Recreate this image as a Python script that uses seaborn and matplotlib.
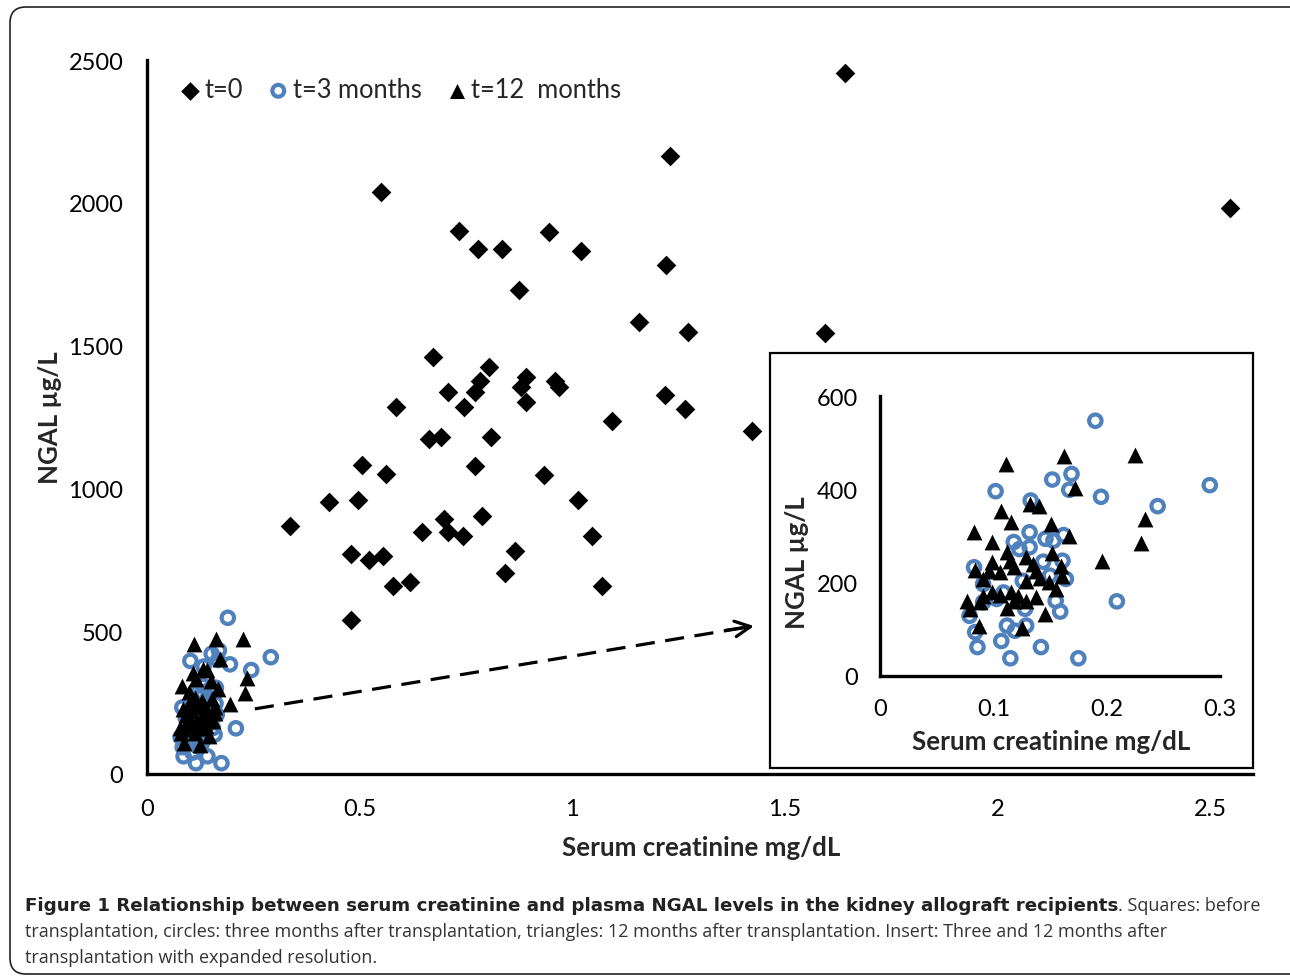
import numpy as np
import pandas as pd
import matplotlib
matplotlib.use("Agg")
import matplotlib.pyplot as plt
import seaborn as sns
from matplotlib.patches import Rectangle, FancyBboxPatch
from matplotlib.transforms import IdentityTransform

# t=0 (before transplantation), serum creatinine mg/dL and NGAL ug/L
t0_creat = [1.641, 2.547, 0.549, 1.230, 0.733, 0.778, 0.835, 0.946, 1.020, 1.221,
            0.874, 1.157, 1.271, 1.594, 0.672, 0.803, 0.782, 0.770, 0.707, 0.746,
            0.891, 0.879, 0.891, 0.958, 0.969, 0.585, 1.092, 0.664, 0.690, 0.808,
            0.505, 0.561, 0.771, 0.933, 0.428, 0.497, 1.014, 0.336, 0.698, 0.788,
            0.647, 0.707, 0.743, 1.046, 0.480, 0.522, 0.555, 0.866, 0.578, 0.619,
            0.842, 1.070, 0.479, 1.218, 1.265, 1.423]
t0_ngal = [2455, 1982, 2039, 2163, 1902, 1838, 1838, 1897, 1832, 1782,
           1696, 1584, 1549, 1544, 1459, 1424, 1377, 1336, 1336, 1284,
           1389, 1354, 1301, 1377, 1354, 1286, 1237, 1173, 1181, 1179,
           1083, 1050, 1080, 1047, 953, 960, 960, 867, 893, 904,
           846, 846, 834, 834, 770, 750, 764, 782, 659, 673,
           703, 659, 539, 1327, 1278, 1201]

# t=3 months
t3_creat = [0.190, 0.291, 0.245, 0.195, 0.209, 0.175, 0.142, 0.115, 0.107, 0.086,
            0.102, 0.152, 0.169, 0.167, 0.133, 0.132, 0.118, 0.123, 0.132, 0.146,
            0.153, 0.162, 0.161, 0.144, 0.083, 0.164, 0.150, 0.126, 0.091, 0.109,
            0.155, 0.159, 0.079, 0.084, 0.112, 0.129, 0.119, 0.128, 0.091, 0.103]
t3_ngal = [547, 409, 364, 384, 160, 38, 62, 38, 75, 62,
           396, 421, 433, 399, 376, 308, 287, 272, 276, 294,
           290, 302, 247, 245, 233, 208, 215, 204, 197, 179,
           161, 138, 129, 94, 108, 108, 97, 144, 158, 165]

# t=12 months
t12_creat = [0.111, 0.162, 0.225, 0.172, 0.234, 0.230, 0.196, 0.132, 0.140, 0.107,
             0.116, 0.151, 0.083, 0.167, 0.099, 0.112, 0.152, 0.129, 0.099, 0.115,
             0.084, 0.135, 0.160, 0.096, 0.106, 0.118, 0.138, 0.091, 0.129, 0.141,
             0.161, 0.149, 0.155, 0.077, 0.079, 0.091, 0.099, 0.106, 0.116, 0.122,
             0.129, 0.138, 0.112, 0.146, 0.087, 0.125, 0.088, 0.118]
t12_ngal = [454, 472, 474, 403, 336, 285, 246, 369, 365, 354,
            331, 326, 308, 299, 287, 265, 264, 254, 244, 247,
            228, 240, 235, 226, 222, 233, 224, 208, 204, 211,
            214, 201, 186, 161, 144, 172, 179, 174, 179, 172,
            161, 169, 145, 133, 108, 102, 158, 161]

x_ticks = [0, 0.5, 1, 1.5, 2, 2.5]
x_tick_labels = ["0", "0.5", "1", "1.5", "2", "2.5"]
y_ticks = [0, 500, 1000, 1500, 2000, 2500]
inset_x_ticks = [0, 0.1, 0.2, 0.3]
inset_x_tick_labels = ["0", "0.1", "0.2", "0.3"]
inset_y_ticks = [0, 200, 400, 600]

df0 = pd.DataFrame({"creat": t0_creat, "ngal": t0_ngal})
df3 = pd.DataFrame({"creat": t3_creat, "ngal": t3_ngal})
df12 = pd.DataFrame({"creat": t12_creat, "ngal": t12_ngal})

sns.set_style("white")
plt.rcParams["font.family"] = ["Lato", "DejaVu Sans"]

BLUE = "#4f81bd"
W, H = 1290, 979
fig = plt.figure(figsize=(W / 100, H / 100), dpi=100)


def fx(px):
    return px / W


def fy(py):
    return 1 - py / H


def style_axes(ax, fs):
    for s in ["top", "right"]:
        ax.spines[s].set_visible(False)
    for s in ["left", "bottom"]:
        ax.spines[s].set_color("black")
        ax.spines[s].set_linewidth(2.4)
    ax.tick_params(length=0, labelsize=fs, colors="black")


D_KW = dict(marker="D", s=100, color="black", edgecolor="black", linewidth=0)
O_KW = dict(marker="o", s=80, facecolor="none", edgecolor=BLUE, linewidth=3)
T_KW = dict(marker="^", s=130, color="black", edgecolor="black", linewidth=0)

# main axes
ax = fig.add_axes([fx(147), fy(775), fx(1253) - fx(147), fy(61) - fy(775)])
sns.scatterplot(data=df0, x="creat", y="ngal", ax=ax, label="t=0", **D_KW)
sns.scatterplot(data=df3, x="creat", y="ngal", ax=ax, label="t=3 months", **O_KW)
sns.scatterplot(data=df12, x="creat", y="ngal", ax=ax, label="t=12  months", **T_KW)
ax.set_xlim(0, 2.6)
ax.set_ylim(0, 2500)
ax.set_xticks(x_ticks)
ax.set_xticklabels(x_tick_labels)
ax.set_yticks(y_ticks)
style_axes(ax, 17)
ax.tick_params(axis="y", pad=17)
ax.tick_params(axis="x", pad=17)
ax.set_xlabel("Serum creatinine mg/dL", fontsize=18.6, fontweight="bold", va="center")
ax.set_ylabel("NGAL µg/L", fontsize=18.6, fontweight="bold", va="center")
ax.xaxis.set_label_coords(0.501, -0.102)
ax.yaxis.set_label_coords(-0.0877, 0.5)

leg = ax.legend(loc="center left", bbox_to_anchor=(0.0298, 0.958), ncol=3,
                frameon=False, fontsize=18.4, markerscale=0.95, handlelength=0.8,
                handletextpad=0.16, columnspacing=0.98, borderpad=0,
                borderaxespad=0)

# dashed pointer from the low cluster to the insert
ax.plot([0.2535, 1.41], [228, 514], ls=(0, (6, 3.3)), color="black", lw=2.3)
ax.annotate("", xy=(1.427, 518), xytext=(1.36, 503),
            arrowprops=dict(arrowstyle="->", color="black", lw=2.3,
                            mutation_scale=28, shrinkA=0, shrinkB=0))

# insert box
box = Rectangle((fx(770), fy(769)), fx(1253) - fx(770), fy(354) - fy(769),
                transform=fig.transFigure, facecolor="white", edgecolor="black",
                linewidth=1.6, zorder=1)
fig.add_artist(box)

iax = fig.add_axes([fx(880), fy(677), fx(1220) - fx(880), fy(397) - fy(677)])
iax.set_zorder(2)
iax.patch.set_alpha(0)
sns.scatterplot(data=df3, x="creat", y="ngal", ax=iax, **O_KW)
sns.scatterplot(data=df12, x="creat", y="ngal", ax=iax, **T_KW)
iax.set_xlim(0, 0.3)
iax.set_ylim(0, 600)
iax.set_xticks(inset_x_ticks)
iax.set_xticklabels(inset_x_tick_labels)
iax.set_yticks(inset_y_ticks)
style_axes(iax, 17)
iax.tick_params(axis="y", pad=16)
iax.tick_params(axis="x", pad=16)
iax.set_xlabel("Serum creatinine mg/dL", fontsize=18.6, fontweight="bold", va="center")
iax.set_ylabel("NGAL µg/L", fontsize=18.6, fontweight="bold", va="center")
iax.xaxis.set_label_coords(0.503, -0.232)
iax.yaxis.set_label_coords(-0.244, 0.407)

# outer frame, in pixels
frame = FancyBboxPatch((10, 4), 1300, 967,
                       boxstyle="round,pad=0,rounding_size=16",
                       transform=IdentityTransform(), facecolor="none",
                       edgecolor="#222222", linewidth=1.2, zorder=0)
fig.add_artist(frame)

# caption
cap_font = ["Open Sans", "DejaVu Sans"]
cap_size = 12.95
bold_part = ("Figure 1 Relationship between serum creatinine and plasma NGAL "
             "levels in the kidney allograft recipients")
t1 = fig.text(fx(25), fy(906), bold_part, fontsize=13.15, fontweight="bold",
              family=["DejaVu Sans"], va="center", ha="left", color="#222222")
fig.canvas.draw()
bb = t1.get_window_extent(renderer=fig.canvas.get_renderer())
fig.text(bb.x1 / W, fy(906), ". Squares: before", fontsize=cap_size,
         family=cap_font, va="center", ha="left", color="#333333")
fig.text(fx(25), fy(932),
         "transplantation, circles: three months after transplantation, "
         "triangles: 12 months after transplantation. Insert: Three and 12 "
         "months after", fontsize=cap_size, family=cap_font, va="center",
         ha="left", color="#333333")
fig.text(fx(25), fy(958), "transplantation with expanded resolution.",
         fontsize=cap_size, family=cap_font, va="center", ha="left",
         color="#333333")

fig.savefig("out.png", dpi=100)
